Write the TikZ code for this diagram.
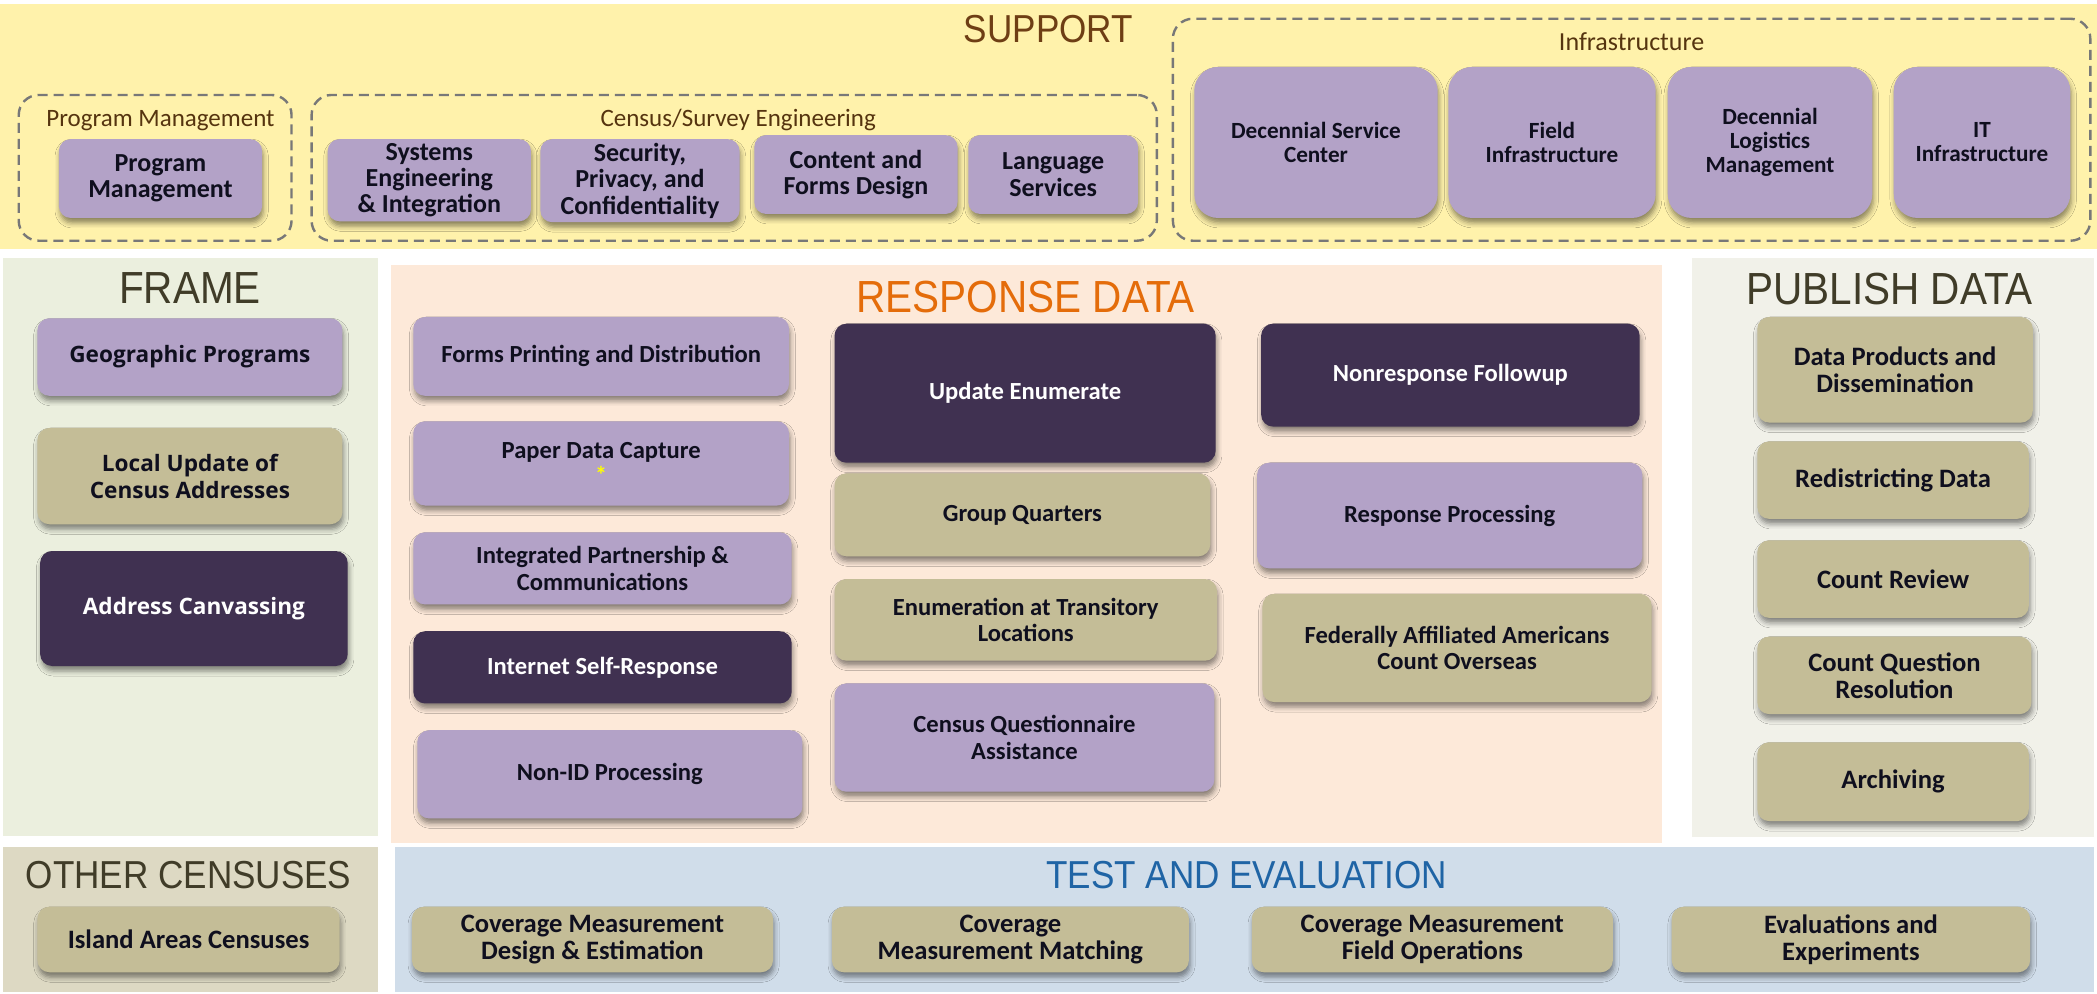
\documentclass[tikz,border=0pt]{standalone}
\usepackage{fontspec}
\setmainfont{Carlito}
\newfontfamily\titlefont[FakeStretch=0.9]{Liberation Sans}
\newfontfamily\widefont{Open Sans}
\usetikzlibrary{shadows.blur}
\definecolor{cSup}{RGB}{255,242,171}
\definecolor{cFrame}{RGB}{235,239,222}
\definecolor{cResp}{RGB}{253,233,217}
\definecolor{cPub}{RGB}{241,241,233}
\definecolor{cOth}{RGB}{221,217,195}
\definecolor{cTest}{RGB}{208,221,234}
\definecolor{cLav}{RGB}{179,162,199}
\definecolor{cTan}{RGB}{196,189,151}
\definecolor{cDark}{RGB}{64,49,81}
\definecolor{cBrown}{RGB}{110,62,20}
\definecolor{cGrpT}{RGB}{85,52,15}
\definecolor{cOlive}{RGB}{64,60,40}
\definecolor{cOrange}{RGB}{228,108,10}
\definecolor{cBlue}{RGB}{31,100,165}
\definecolor{cDash}{RGB}{120,120,120}
\definecolor{cTxt}{RGB}{15,15,30}
\definecolor{cStar}{RGB}{255,255,0}
\def\ux{0.6687pt}
\newcommand{\Bx}[7]{\node[#1, anchor=north west, minimum width={(#5-#3)*\ux}, minimum height={(#6-#4)*\ux}] (#2) at (#3,#4) {#7};}
\begin{document}
\begin{tikzpicture}[x=0.6687pt,y=-0.6687pt,
  panel/.style={inner sep=0pt, outer sep=0pt, draw=none},
  grp/.style={inner sep=0pt, outer sep=0pt, draw=cDash, dashed, dash pattern=on 5pt off 3pt, line width=1.2pt, rounded corners=10pt},
  grplabel/.style={text=cGrpT, font=\fontsize{12.5}{13}\selectfont, inner sep=0pt},
  ttl/.style={inner sep=0pt, font=\titlefont\fontsize{19.5}{20}\selectfont},
  bigttl/.style={inner sep=0pt, font=\titlefont\fontsize{22.5}{23}\selectfont},
  box/.style={rounded corners=6pt, inner sep=2pt, outer sep=0pt, align=center, text=cTxt,
    font=\bfseries\fontsize{12.3}{13.4}\selectfont,
    blur shadow={shadow xshift=0.6pt, shadow yshift=-2.5pt, shadow blur radius=2.5pt, shadow opacity=45}},
  lav/.style={box, fill=cLav},
  tanb/.style={box, fill=cTan},
  dark/.style={box, fill=cDark, text=white},
  supf/.style={font=\bfseries\fontsize{13}{13.2}\selectfont},
  inff/.style={font=\bfseries\fontsize{11.6}{11.9}\selectfont},
  pubf/.style={font=\bfseries\fontsize{13.3}{13.4}\selectfont},
  frf/.style={font=\widefont\bfseries\fontsize{11.3}{13.4}\selectfont},
]
\useasboundingbox (0,0) rectangle (1568,743);
\fill[white] (0,0) rectangle (1568,743);
% panels
\Bx{panel, fill=cSup}{support}{0}{3}{1568}{186}{}
\Bx{panel, fill=cFrame}{frame}{2}{193}{283}{625}{}
\Bx{panel, fill=cResp}{resp}{292}{198}{1243}{630}{}
\Bx{panel, fill=cPub}{pub}{1265}{193}{1566}{626}{}
\Bx{panel, fill=cOth}{oth}{2}{633}{283}{742}{}
\Bx{panel, fill=cTest}{test}{295}{633}{1566}{742}{}
% titles
\node[ttl, text=cBrown] (tSup) at (784,22) {SUPPORT};
\node[bigttl, text=cOlive] (tFrame) at (142,215) {FRAME};
\node[bigttl, text=cOrange] (tResp) at (767,222) {RESPONSE DATA};
\node[bigttl, text=cOlive] (tPub) at (1413,216) {PUBLISH DATA};
\node[ttl, text=cOlive] (tOth) at (141,654) {OTHER CENSUSES};
\node[ttl, text=cBlue] (tTest) at (932,654) {TEST AND EVALUATION};
% dashed groups
\Bx{grp}{gPM}{14}{71}{218}{180}{}
\Bx{grp}{gCSE}{233}{71}{865}{180}{}
\Bx{grp}{gInf}{877}{14}{1563}{180}{}
\node[grplabel] (lPM) at (120,90) {Program Management};
\node[grplabel] (lCSE) at (552,90) {Census/Survey Engineering};
\node[grplabel, font=\fontsize{13}{13}\selectfont] (lInf) at (1220,31) {Infrastructure};
% support boxes
\Bx{lav, supf}{pm}{44}{104}{196}{163}{Program\\Management}
\Bx{lav, supf}{sei}{245}{104}{397}{163}{Systems\\Engineering\\\& Integration}
\Bx{lav, supf}{spc}{404}{104}{553}{163}{Security,\\Privacy, and\\Confidentiality}
\Bx{lav, supf}{cfd}{564}{101}{716}{160}{Content and\\Forms Design}
\Bx{lav, supf}{ls}{724}{101}{851}{160}{Language\\Services}
\Bx{lav, inff, rounded corners=12pt}{dsc}{893}{50}{1075}{163}{Decennial Service\\Center}
\Bx{lav, inff, rounded corners=12pt}{fi}{1083}{50}{1238}{163}{Field\\Infrastructure}
\Bx{lav, inff, rounded corners=12pt}{dlm}{1247}{50}{1400}{163}{Decennial\\Logistics\\Management}
\Bx{lav, inff, rounded corners=12pt}{iti}{1416}{50}{1548}{163}{IT\\Infrastructure}
% frame boxes
\Bx{lav, frf}{geo}{28}{238}{256}{296}{Geographic Programs}
\Bx{tanb, frf}{luca}{28}{320}{256}{392}{Local Update of\\Census Addresses}
\Bx{dark, frf}{ac}{30}{412}{260}{498}{Address Canvassing}
% response boxes
\Bx{lav}{fpd}{309}{237}{590}{296}{Forms Printing and Distribution}
\Bx{lav}{pdc}{309}{315}{590}{378}{}
\node[inner sep=0pt, text=cTxt, font=\bfseries\fontsize{12.3}{13.4}\selectfont] (pdcT) at (449.5,338) {Paper Data Capture};
\node[inner sep=0pt, text=cStar, font=\bfseries\fontsize{12}{12}\selectfont] (pdcS) at (449.5,355) {*};
\Bx{lav}{ipc}{309}{398}{592}{452}{Integrated Partnership \&\\Communications}
\Bx{dark}{isr}{309}{472}{592}{526}{Internet Self-Response}
\Bx{lav}{nid}{312}{546}{600}{612}{Non-ID Processing}
\Bx{dark}{ue}{624}{242}{909}{346}{Update Enumerate}
\Bx{tanb}{gq}{624}{354}{905}{416}{Group Quarters}
\Bx{tanb}{etl}{624}{433}{910}{494}{Enumeration at Transitory\\Locations}
\Bx{lav}{cqa}{624}{511}{908}{592}{Census Questionnaire\\Assistance}
\Bx{dark}{nrfu}{943}{242}{1226}{319}{Nonresponse Followup}
\Bx{lav}{rp}{940}{346}{1228}{425}{Response Processing}
\Bx{tanb}{faa}{944}{444}{1235}{525}{Federally Affiliated Americans\\Count Overseas}
% publish boxes
\Bx{tanb, pubf}{dpd}{1314}{237}{1520}{316}{Data Products and\\Dissemination}
\Bx{tanb, pubf}{rd}{1314}{330}{1517}{388}{Redistricting Data}
\Bx{tanb, pubf}{cr}{1314}{404}{1517}{462}{Count Review}
\Bx{tanb, pubf}{cqr}{1314}{476}{1519}{534}{Count Question\\Resolution}
\Bx{tanb, pubf}{arc}{1314}{555}{1517}{614}{Archiving}
% other censuses
\Bx{tanb, pubf}{iac}{28}{678}{254}{727}{Island Areas Censuses}
% test and evaluation
\Bx{tanb, pubf}{cmde}{308}{678}{578}{727}{Coverage Measurement\\Design \& Estimation}
\Bx{tanb, pubf}{cmm}{622}{678}{889}{727}{Coverage\\Measurement Matching}
\Bx{tanb, pubf}{cmfo}{936}{678}{1206}{727}{Coverage Measurement\\Field Operations}
\Bx{tanb, pubf}{ee}{1250}{678}{1518}{727}{Evaluations and\\Experiments}
\end{tikzpicture}
\end{document}
